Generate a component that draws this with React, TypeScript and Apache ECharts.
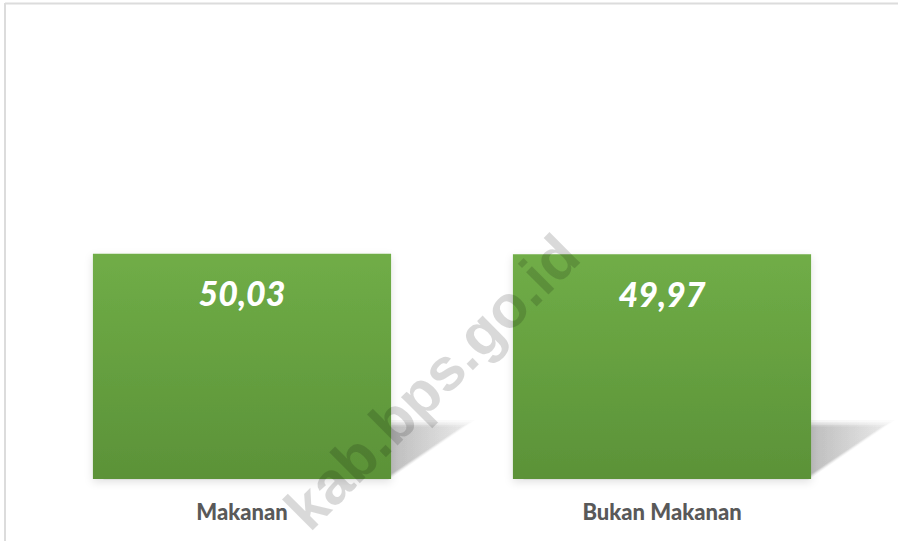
import React, { useEffect, useRef } from "react";
import * as echarts from "echarts";

const categories = ["Makanan", "Bukan Makanan"];
const values = [50.03, 49.97];
const watermarkText = "kab.bps.go.id";

export default function App() {
  const ref = useRef<HTMLDivElement>(null);
  useEffect(() => {
    document.body.style.margin = "0";
    if (!ref.current) return;
    const chart = echarts.init(ref.current, null, { renderer: "svg" });
    const barRatio = 0.71;
    const shadowLayers = [
      { grow: 10, alpha: 0.04 },
      { grow: 6, alpha: 0.05 },
      { grow: 3, alpha: 0.06 },
      { grow: 0, alpha: 0.07 },
      { grow: -3, alpha: 0.06 },
    ];
    chart.setOption({
      animation: false,
      backgroundColor: "#ffffff",
      grid: { left: 32, right: 26, top: 29, bottom: 62 },
      xAxis: {
        type: "category",
        data: categories,
        axisLine: { show: false },
        axisTick: { show: false },
        axisLabel: {
          color: "#595959",
          fontFamily: "Lato",
          fontWeight: 900,
          fontSize: 22,
          margin: 21,
        },
      },
      yAxis: { type: "value", min: 0, max: 100, show: false, splitLine: { show: false } },
      series: [
        {
          type: "custom",
          z: 1,
          silent: true,
          data: values.map((v, i) => [i, v]),
          renderItem: (params: any, api: any) => {
            const idx = api.value(0);
            const bottom = api.coord([idx, 0]);
            const w = api.size([1, 0])[0] * barRatio;
            const L = bottom[0] - w / 2;
            const R = bottom[0] + w / 2;
            const by = bottom[1] - 4;
            const dx = 74;
            const dy = 50;
            return {
              type: "group",
              children: shadowLayers.map((s) => ({
                type: "polygon",
                shape: {
                  points: [
                    [L + 10, by + s.grow * 0.5],
                    [R - s.grow * 0.3, by + s.grow * 0.5],
                    [R + dx + s.grow, by - dy - s.grow * 0.5],
                    [L + dx, by - dy - s.grow * 0.5],
                  ],
                },
                style: {
                  fill: {
                    type: "linear",
                    x: 0, y: 0, x2: 1, y2: 0,
                    colorStops: [
                      { offset: 0, color: `rgba(0,0,0,${s.alpha * 1.2})` },
                      { offset: 0.8, color: `rgba(0,0,0,${s.alpha})` },
                      { offset: 1, color: `rgba(0,0,0,${s.alpha * 0.3})` },
                    ],
                  },
                },
              })),
            };
          },
        },
        {
          type: "bar",
          z: 2,
          data: values,
          barWidth: barRatio * 100 + "%",
          itemStyle: {
            color: {
              type: "linear",
              x: 0, y: 0, x2: 0, y2: 1,
              colorStops: [
                { offset: 0, color: "#70ad47" },
                { offset: 1, color: "#5b9238" },
              ],
            },
            shadowColor: "rgba(0,0,0,0.12)",
            shadowBlur: 8,
            shadowOffsetY: 3,
          },
          label: {
            show: true,
            position: "insideTop",
            distance: 22,
            color: "#ffffff",
            fontFamily: "Lato",
            fontWeight: 900,
            fontStyle: "italic",
            fontSize: 34,
            formatter: (p: any) => Number(p.value).toFixed(2).replace(".", ","),
          },
        },
      ],
      graphic: [
        {
          type: "line",
          shape: { x1: 5, y1: 3, x2: 5, y2: 541 },
          style: { stroke: "#dcdcdc", lineWidth: 2 },
        },
        {
          type: "line",
          shape: { x1: 5, y1: 3.5, x2: 898, y2: 3.5 },
          style: { stroke: "#dcdcdc", lineWidth: 2 },
        },
        {
          type: "text",
          x: 432,
          y: 382,
          rotation: Math.PI / 4,
          z: 100,
          silent: true,
          style: {
            text: watermarkText,
            fontFamily: "Liberation Sans",
            fontWeight: "bold",
            fontSize: 60,
            fill: "rgba(0,0,0,0.15)",
            align: "center",
            verticalAlign: "middle",
          },
        },
      ],
    });
    return () => chart.dispose();
  }, []);
  return <div ref={ref} style={{ width: 898, height: 541 }} />;
}
